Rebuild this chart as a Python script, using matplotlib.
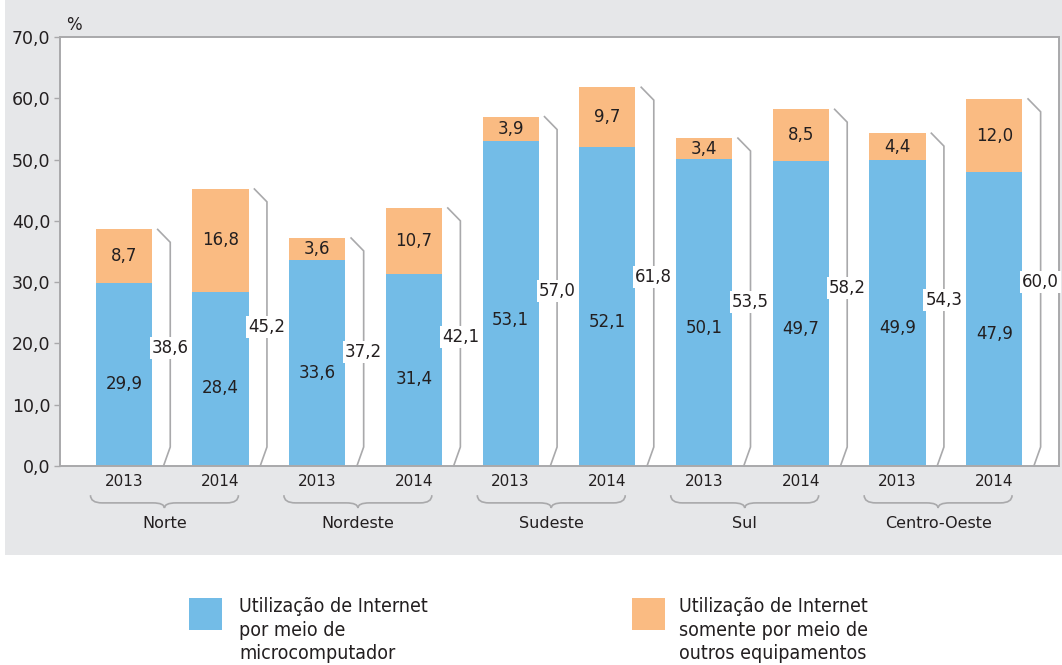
import matplotlib
matplotlib.use('Agg')
import matplotlib.pyplot as plt
from matplotlib.patches import Rectangle, PathPatch
from matplotlib.path import Path
import matplotlib.transforms as mtransforms

regions = ['Norte', 'Nordeste', 'Sudeste', 'Sul', 'Centro-Oeste']
years = ['2013', '2014']
micro = [29.9, 28.4, 33.6, 31.4, 53.1, 52.1, 50.1, 49.7, 49.9, 47.9]
outros = [8.7, 16.8, 3.6, 10.7, 3.9, 9.7, 3.4, 8.5, 4.4, 12.0]
totals = [38.6, 45.2, 37.2, 42.1, 57.0, 61.8, 53.5, 58.2, 54.3, 60.0]
yticks = [0, 10, 20, 30, 40, 50, 60, 70]

BLUE = '#73bce7'
ORANGE = '#fabb82'
GRAY_BG = '#e6e7e9'
LINE = '#a9a9ab'
TXT = '#231f20'

plt.rcParams['font.family'] = ['DejaVu Sans']

fig = plt.figure(figsize=(10.62, 6.65), dpi=100)
bg = Rectangle((5 / 1062, 110 / 665), 1057 / 1062, 555 / 665,
               transform=fig.transFigure, facecolor=GRAY_BG,
               edgecolor='none', zorder=-5)
fig.add_artist(bg)
ax = fig.add_axes([60 / 1062, 199 / 665, 999 / 1062, 429 / 665])
ax.set_facecolor('white')

x = list(range(len(micro)))
w = 0.58
ax.bar(x, micro, width=w, color=BLUE, zorder=2)
ax.bar(x, outros, width=w, bottom=micro, color=ORANGE, zorder=2)

for i in x:
    ax.text(i, micro[i] * 0.45, f'{micro[i]:.1f}'.replace('.', ','),
            ha='center', va='center', fontsize=12, color=TXT, zorder=3)
    ax.text(i, micro[i] + outros[i] / 2, f'{outros[i]:.1f}'.replace('.', ','),
            ha='center', va='center', fontsize=12, color=TXT, zorder=3)
    # bracket next to each bar
    xr = i + w / 2
    t = micro[i] + outros[i]
    ax.plot([xr + 0.06, xr + 0.19, xr + 0.19, xr + 0.12],
            [t, t - 2.1, 3.1, 0], color=LINE, lw=1.2, zorder=2,
            solid_joinstyle='miter', clip_on=False)
    ax.text(xr + 0.19, t / 2, f'{totals[i]:.1f}'.replace('.', ','),
            ha='center', va='center', fontsize=12, color=TXT, zorder=4,
            bbox=dict(facecolor='white', edgecolor='none', pad=1.5))

ax.set_xlim(-0.66, 9.67)
ax.set_ylim(0, 70)
ax.set_yticks(yticks)
ax.set_yticklabels([f'{v:.1f}'.replace('.', ',') for v in yticks],
                   fontsize=12.5, color=TXT)
ax.tick_params(axis='y', length=4, width=1, color=LINE, pad=3)
ax.set_xticks([])
for s in ax.spines.values():
    s.set_color(LINE)
    s.set_linewidth(1.4)

tr = mtransforms.blended_transform_factory(ax.transData, ax.transAxes)
ax.text(-0.6, 1.008, '%', transform=tr, fontsize=12, color=TXT,
        ha='left', va='bottom')

# year labels, braces and region names
for i in x:
    ax.text(i, -0.037, years[i % 2], transform=tr, ha='center', va='center',
            fontsize=11, color=TXT, clip_on=False)

y_top, y_line, y_tip = -0.068, -0.086, -0.098
r = 0.12
for g, name in enumerate(regions):
    xc = 2 * g + 0.5 - 0.08
    xl, xrr = xc - 0.765, xc + 0.765
    verts = [(xl, y_top), (xl, y_line), (xl + r, y_line),
             (xc - r, y_line), (xc, y_line), (xc, y_tip),
             (xc, y_line), (xc + r, y_line),
             (xrr - r, y_line), (xrr, y_line), (xrr, y_top)]
    codes = [Path.MOVETO, Path.CURVE3, Path.CURVE3,
             Path.LINETO, Path.CURVE3, Path.CURVE3,
             Path.CURVE3, Path.CURVE3,
             Path.LINETO, Path.CURVE3, Path.CURVE3]
    ax.add_patch(PathPatch(Path(verts, codes), transform=tr, facecolor='none',
                           edgecolor=LINE, lw=1.2, clip_on=False))
    ax.text(xc, -0.133, name, transform=tr, ha='center', va='center',
            fontsize=11.5, color=TXT, clip_on=False)

# legend
for (lx, tx, col, lines) in [
        (189, 239, BLUE, ['Utilização de Internet', 'por meio de', 'microcomputador']),
        (632, 679, ORANGE, ['Utilização de Internet', 'somente por meio de', 'outros equipamentos'])]:
    fig.add_artist(Rectangle((lx / 1062, (665 - 630) / 665), 33 / 1062, 32 / 665,
                             transform=fig.transFigure, facecolor=col,
                             edgecolor='none'))
    for k, line in enumerate(lines):
        fig.text(tx / 1062, (665 - 612 - 23.5 * k) / 665, line, family='DejaVu Sans',
                 stretch='condensed', fontsize=14, color=TXT,
                 ha='left', va='baseline')

fig.savefig('out.png', dpi=100)
